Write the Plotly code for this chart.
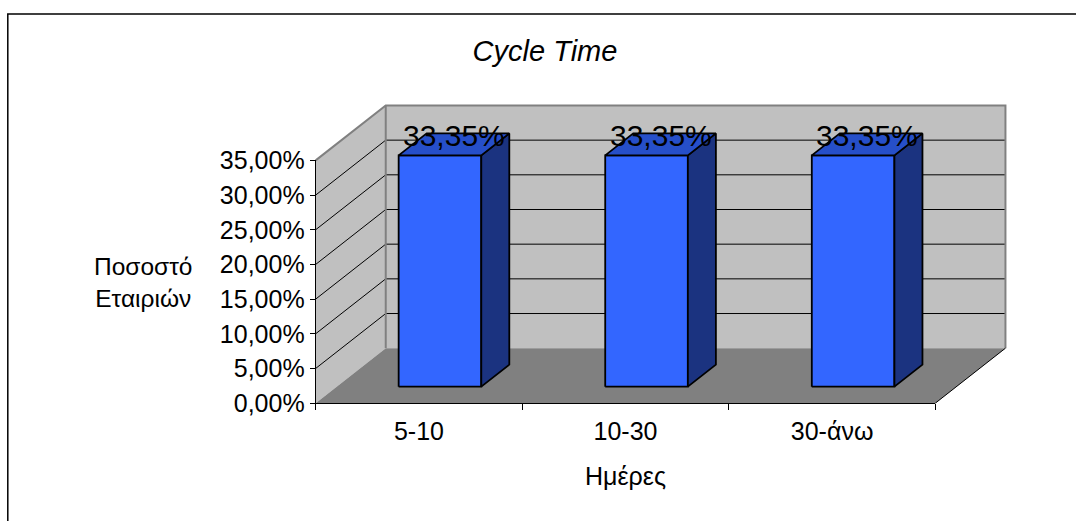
import plotly.graph_objects as go

# ---- data -------------------------------------------------------------
categories = ["5-10", "10-30", "30-άνω"]
shares = [33.35, 33.35, 33.35]          # percent of companies
y_tick_vals = [0, 5, 10, 15, 20, 25, 30, 35]
y_tick_text = ["0,00%", "5,00%", "10,00%", "15,00%", "20,00%", "25,00%", "30,00%", "35,00%"]
chart_title = "Cycle Time"
x_title = "Ημέρες"
y_title = "Ποσοστό<br>Εταιριών"

# ---- frame geometry (pixels) -----------------------------------------
FIG_W, FIG_H = 1076, 521
AX_LEFT = 316            # front value axis
AX_ZERO = 403            # front category axis
CAT_PX = 206.33          # width of one category slot
Y_TOP = 35               # top of the value axis
PCT_PX = 243 / Y_TOP     # pixels per percent

# oblique depth of the floor, expressed in axis units
DEPTH_X = 70 / CAT_PX
DEPTH_Y = 55 / PCT_PX

# bar shape inside a category slot (fractions)
BAR_W = 0.40             # bar width, category units
BAR_D0, BAR_D1 = 0.30, 0.70   # bar front/back along the depth

X_MIN, X_MAX = -0.1, 3.4
Y_MIN, Y_MAX = -2.0, 44.0

plot_left = AX_LEFT + X_MIN * CAT_PX
plot_right = AX_LEFT + X_MAX * CAT_PX
plot_top = AX_ZERO - Y_MAX * PCT_PX
plot_bottom = AX_ZERO - Y_MIN * PCT_PX


def px_to_paper(xp, yp):
    return ((xp - plot_left) / (plot_right - plot_left),
            (plot_bottom - yp) / (plot_bottom - plot_top))


FONT = "Liberation Sans, Arial, sans-serif"
WALL = "#c0c0c0"
WALL_EDGE = "#808080"
FLOOR = "#808080"
BAR_FRONT = "#3366ff"
BAR_SIDE = "#1b3380"
BAR_TOP = "#264fc9"

n = len(categories)
fig = go.Figure()


def poly(xs, ys, fill, line_color=None, line_width=0):
    fig.add_trace(go.Scatter(
        x=list(xs) + [xs[0]], y=list(ys) + [ys[0]],
        mode="lines", fill="toself", fillcolor=fill,
        line=dict(color=line_color or fill, width=line_width),
        hoverinfo="skip", showlegend=False))


def path(xs, ys, color, width):
    fig.add_trace(go.Scatter(
        x=xs, y=ys, mode="lines", line=dict(color=color, width=width),
        hoverinfo="skip", showlegend=False))


# walls and floor
poly([0, 0, DEPTH_X, DEPTH_X], [0, Y_TOP, Y_TOP + DEPTH_Y, DEPTH_Y], WALL)
poly([DEPTH_X, n + DEPTH_X, n + DEPTH_X, DEPTH_X],
     [DEPTH_Y, DEPTH_Y, Y_TOP + DEPTH_Y, Y_TOP + DEPTH_Y], WALL)
poly([0, n, n + DEPTH_X, DEPTH_X], [0, 0, DEPTH_Y, DEPTH_Y], FLOOR)

# gridlines on the side wall and back wall
gx, gy = [], []
for v in y_tick_vals[1:-1]:
    gx += [0, DEPTH_X, n + DEPTH_X, None]
    gy += [v, v + DEPTH_Y, v + DEPTH_Y, None]
path(gx, gy, "#000000", 1)

# wall outlines
path([0, DEPTH_X, n + DEPTH_X, n + DEPTH_X],
     [Y_TOP, Y_TOP + DEPTH_Y, Y_TOP + DEPTH_Y, DEPTH_Y], WALL_EDGE, 2)
path([DEPTH_X, DEPTH_X], [DEPTH_Y, Y_TOP + DEPTH_Y], WALL_EDGE, 2)
path([n, n + DEPTH_X], [0, DEPTH_Y], "#000000", 1)

# 3D columns
dx = (BAR_D1 - BAR_D0) * DEPTH_X
dy = (BAR_D1 - BAR_D0) * DEPTH_Y
for i, v in enumerate(shares):
    x0 = i + 0.5 - BAR_W / 2 + BAR_D0 * DEPTH_X
    x1 = x0 + BAR_W
    yb = BAR_D0 * DEPTH_Y
    yt = yb + v
    poly([x0, x1, x1, x0], [yb, yb, yt, yt], BAR_FRONT, "#000000", 1.8)
    poly([x1, x1 + dx, x1 + dx, x1], [yb, yb + dy, yt + dy, yt], BAR_SIDE, "#000000", 1.8)
    poly([x0, x1, x1 + dx, x0 + dx], [yt, yt, yt + dy, yt + dy], BAR_TOP, "#000000", 1.8)
    fig.add_annotation(
        x=(x0 + x1) / 2 + dx / 2, y=yt + dy / 2, xref="x", yref="y",
        text=f"{v:.2f}".replace(".", ",") + "%", showarrow=False,
        yanchor="middle", yshift=9,
        font=dict(family=FONT, size=30, color="#000000"))

# carrier trace for the visible front axes
fig.add_trace(go.Scatter(x=[], y=[], xaxis="x2", yaxis="y2",
                         showlegend=False, hoverinfo="skip"))

# axis titles
tx, ty = px_to_paper(144, 282)
fig.add_annotation(x=tx, y=ty, xref="paper", yref="paper", text=y_title,
                   showarrow=False, align="center", xanchor="center", yanchor="middle",
                   font=dict(family=FONT, size=24.5, color="#000000"))
tx, ty = px_to_paper(AX_LEFT + n * CAT_PX / 2, 476)
fig.add_annotation(x=tx, y=ty, xref="paper", yref="paper", text=x_title,
                   showarrow=False, xanchor="center", yanchor="middle",
                   font=dict(family=FONT, size=25, color="#000000"))

span_x = X_MAX - X_MIN
span_y = Y_MAX - Y_MIN
fig.update_layout(
    width=FIG_W, height=FIG_H,
    margin=dict(l=plot_left, r=FIG_W - plot_right, t=plot_top, b=FIG_H - plot_bottom,
                autoexpand=False),
    paper_bgcolor="#ffffff", plot_bgcolor="rgba(0,0,0,0)",
    showlegend=False,
    title=dict(text=chart_title, x=545 / FIG_W, xref="container", xanchor="center",
               y=1 - 51 / FIG_H, yref="container", yanchor="middle",
               font=dict(family=FONT, size=29, color="#000000", style="italic")),
    xaxis=dict(range=[X_MIN, X_MAX], visible=False, fixedrange=True),
    yaxis=dict(range=[Y_MIN, Y_MAX], visible=False, fixedrange=True),
    xaxis2=dict(domain=[(0 - X_MIN) / span_x, (n - X_MIN) / span_x], range=[0, n],
                anchor="y2", showgrid=False, zeroline=False,
                showline=True, linecolor="#000000", linewidth=1,
                tickmode="array", tickvals=[i + 0.5 for i in range(n)], ticktext=categories,
                ticks="", ticklabelstandoff=6,
                minor=dict(tickmode="array", tickvals=list(range(n + 1)), ticks="outside",
                           ticklen=6, tickwidth=1, tickcolor="#000000", showgrid=False),
                tickfont=dict(family=FONT, size=25, color="#000000"), fixedrange=True),
    yaxis2=dict(domain=[(0 - Y_MIN) / span_y, (Y_TOP - Y_MIN) / span_y], range=[0, Y_TOP],
                anchor="x2", showgrid=False, zeroline=False,
                showline=True, linecolor="#000000", linewidth=1,
                tickmode="array", tickvals=y_tick_vals, ticktext=y_tick_text,
                ticks="outside", ticklen=5, tickwidth=1, tickcolor="#000000",
                tickfont=dict(family=FONT, size=25, color="#000000"), fixedrange=True),
    shapes=[dict(type="rect", xref="paper", yref="paper",
                 x0=px_to_paper(8.5, 0)[0], x1=px_to_paper(FIG_W + 20, 0)[0],
                 y0=px_to_paper(0, 13.5)[1], y1=px_to_paper(0, FIG_H + 20)[1],
                 line=dict(color="#000000", width=1.5), layer="above")],
)

fig.write_html("out.html")
